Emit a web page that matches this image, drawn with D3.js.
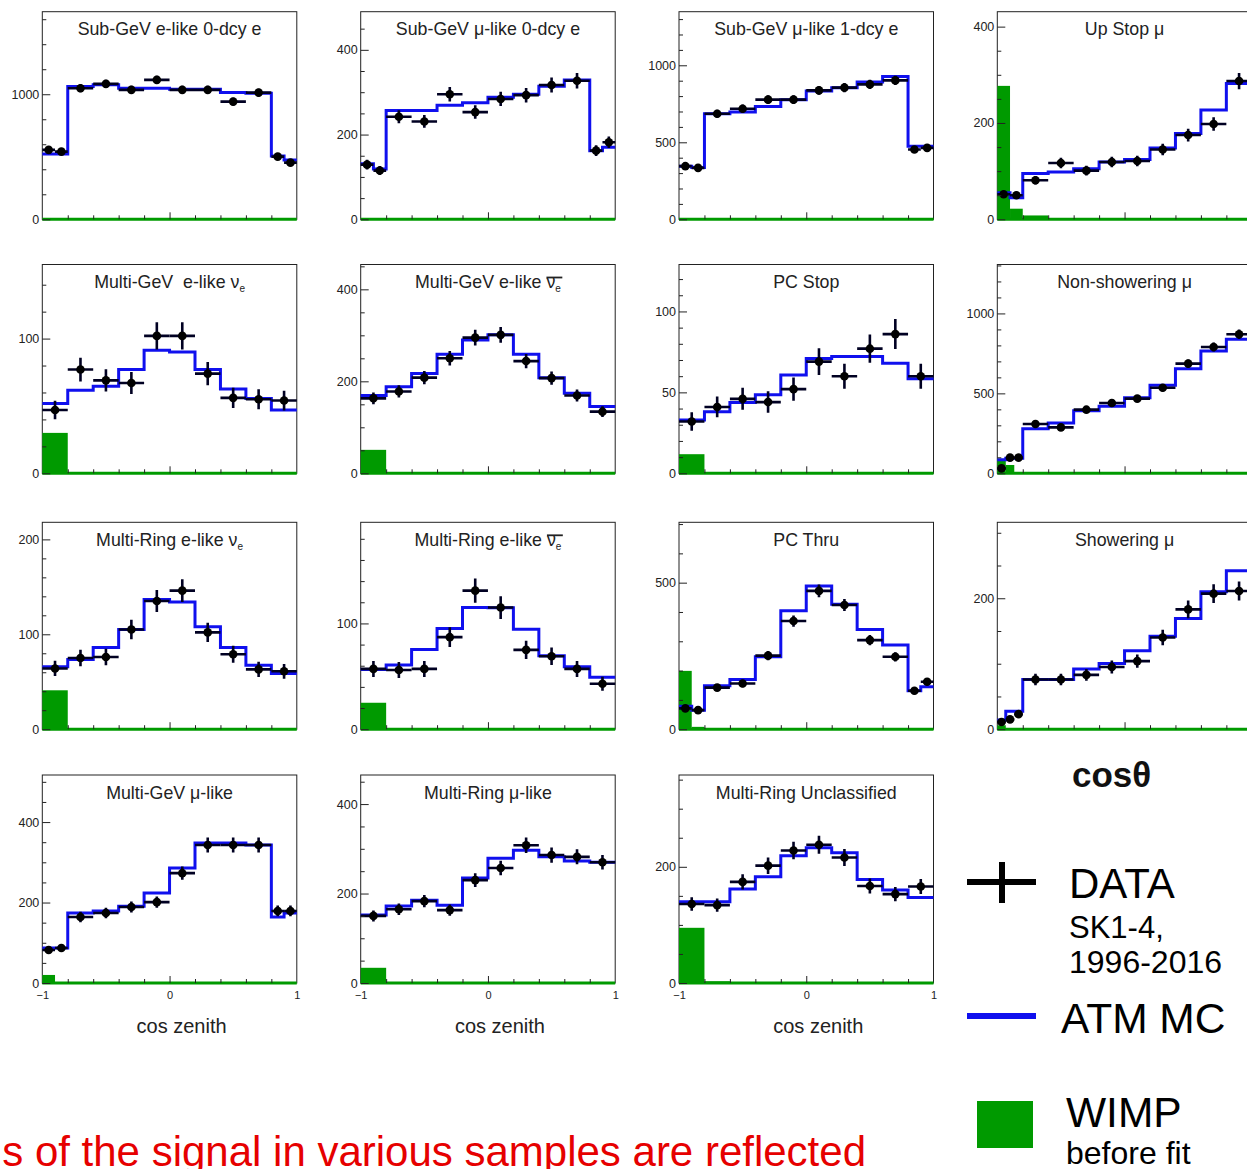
<!DOCTYPE html>
<html>
<head>
<meta charset="utf-8">
<script src="https://cdn.jsdelivr.net/npm/d3@7"></script>
<style>
  html, body { margin: 0; padding: 0; background: #fff; overflow: hidden; }
  svg { display: block; font-family: "Liberation Sans", Arial, Helvetica, sans-serif; }
  text { white-space: pre; }
</style>
</head>
<body>
<svg id="chart" width="1247" height="1169"></svg>
<script>
// ---------- bin edges (cos zenith) ----------
const edgesSplitEnds = [-1, -0.9, -0.8, -0.6, -0.4, -0.2, 0, 0.2, 0.4, 0.6, 0.8, 0.9, 1];
const edgesUniform   = [-1, -0.8, -0.6, -0.4, -0.2, 0, 0.2, 0.4, 0.6, 0.8, 1];
const edgesUpStop    = [-1, -0.95, -0.9, -0.8, -0.7, -0.6, -0.5, -0.4, -0.3, -0.2, -0.1, 0];
const edgesUpThru    = [-1, -0.9667, -0.9333, -0.9, -0.8, -0.7, -0.6, -0.5, -0.4, -0.3, -0.2, -0.1, 0];

// ---------- sample values: data counts, atmospheric MC, WIMP signal ----------
const sgE0Data = [555, 541, 1048, 1083, 1035, 1115, 1035, 1035, 941, 1013, 501, 453];
const sgE0Mc   = [523, 523, 1061, 1075, 1048, 1048, 1040, 1040, 1013, 1008, 507, 475];
const sgE0Wimp = [0, 0, 0, 0, 0, 0, 0, 0, 0, 0, 0, 0];

const sgMu0Data = [129, 115, 242, 231, 295, 253, 284, 293, 317, 327, 162, 182];
const sgMu0Mc   = [131, 119, 257, 257, 269, 275, 288, 295, 314, 329, 162, 170];
const sgMu0Wimp = [0, 0, 0, 0, 0, 0, 0, 0, 0, 0, 0, 0];

const sgMu1Data = [345, 334, 685, 718, 777, 777, 837, 855, 876, 902, 453, 464];
const sgMu1Mc   = [345, 337, 685, 696, 733, 777, 833, 855, 892, 928, 475, 475];
const sgMu1Wimp = [0, 0, 0, 0, 0, 0, 0, 0, 0, 0, 0, 0];

const upStopData = [52, 50, 81, 117, 101, 119, 121, 145, 175, 198, 287];
const upStopMc   = [55, 45, 95, 98, 105, 119, 124, 148, 178, 227, 282];
const upStopWimp = [277, 22, 8, 0, 0, 0, 0, 0, 0, 0, 0];

const mgNueData = [47, 77, 69, 67, 102, 102, 74, 56, 55, 54];
const mgNueMc   = [51.9, 61.7, 64.7, 77, 91.4, 90, 77, 62.5, 55.6, 47];
const mgNueWimp = [30, 0, 0, 0, 0, 0, 0, 0, 0, 0];

const mgNuebarData = [163, 178, 208, 250, 295, 301, 244, 207, 169, 134];
const mgNuebarMc   = [169, 188, 217, 259, 290, 301, 259, 208, 174, 145];
const mgNuebarWimp = [51, 0, 0, 0, 0, 0, 0, 0, 0, 0];

const pcStopData = [32, 41, 46, 44, 52, 69, 60, 77, 86, 60];
const pcStopMc   = [33, 38, 43.7, 48.5, 60.8, 71, 72.2, 72.2, 68, 58.4];
const pcStopWimp = [11.8, 0, 0, 0, 0, 0, 0, 0, 0, 0];

const nonShowData = [31, 98, 98, 308, 287, 398, 440, 467, 535, 686, 790, 870];
const nonShowMc   = [84, 94, 94, 279, 314, 392, 419, 472, 551, 654, 765, 839];
const nonShowWimp = [90, 52, 0, 0, 0, 0, 0, 0, 0, 0, 0, 0];

const mrNueData = [64, 75, 76, 105, 135, 146, 102, 79, 63, 61];
const mrNueMc   = [65.7, 73.5, 86, 105, 136.7, 134, 108, 86, 67.5, 58.7];
const mrNueWimp = [41, 0, 0, 0, 0, 0, 0, 0, 0, 0];

const mrNuebarData = [57, 56, 57, 87, 131, 115, 75, 69, 57, 43];
const mrNuebarMc   = [56.5, 60.6, 75.4, 95.3, 115, 114.8, 94.6, 69.4, 59, 49];
const mrNuebarWimp = [25, 0, 0, 0, 0, 0, 0, 0, 0, 0];

const pcThruData = [71, 65, 142, 156, 251, 369, 472, 424, 304, 247, 131, 162];
const pcThruMc   = [78.6, 65, 148, 170, 247, 404, 489, 426, 340.5, 287, 131, 144.6];
const pcThruWimp = [199, 8, 0, 0, 0, 0, 0, 0, 0, 0, 0, 0];

const showData = [11, 15, 23, 76, 76, 83, 95, 104, 140, 183, 207, 211];
const showMc   = [14, 27.5, 27.5, 76, 76, 92, 100.5, 120, 142, 169, 210, 242];
const showWimp = [6, 0, 0, 0, 0, 0, 0, 0, 0, 0, 0, 0];

const mgMuData = [82, 87, 164, 174, 189, 201, 273, 343, 343, 343, 179, 179];
const mgMuMc   = [87, 87, 174, 179, 191, 224, 286, 348, 348, 343, 164, 174];
const mgMuWimp = [20, 0, 0, 0, 0, 0, 0, 0, 0, 0, 0, 0];

const mrMuData = [150, 165, 183, 163, 230, 257, 308, 286, 282, 270];
const mrMuMc   = [152, 172, 185, 174, 235, 279, 297, 282, 273, 270];
const mrMuWimp = [34, 0, 0, 0, 0, 0, 0, 0, 0, 0];

const mrOtherData = [136, 134, 174, 202, 228, 238, 216, 167, 153, 166];
const mrOtherMc   = [140, 140, 162, 183, 219, 233, 224, 178, 160, 147];
const mrOtherWimp = [95, 3, 0, 0, 0, 0, 0, 0, 0, 0];

// title pieces: [text, style]  style: n = normal, bar = overlined, sub = subscript, subbar = overlined subscript
const titles = [
  [["Sub-GeV e-like 0-dcy e", "n"]],
  [["Sub-GeV μ-like 0-dcy e", "n"]],
  [["Sub-GeV μ-like 1-dcy e", "n"]],
  [["Up Stop μ", "n"]],
  [["Multi-GeV  e-like ", "n"], ["ν", "n"], ["e", "sub"]],
  [["Multi-GeV e-like ", "n"], ["ν", "bar"], ["e", "subbar"]],
  [["PC Stop", "n"]],
  [["Non-showering μ", "n"]],
  [["Multi-Ring e-like ", "n"], ["ν", "n"], ["e", "sub"]],
  [["Multi-Ring e-like ", "n"], ["ν", "bar"], ["e", "subbar"]],
  [["PC Thru", "n"]],
  [["Showering μ", "n"]],
  [["Multi-GeV μ-like", "n"]],
  [["Multi-Ring μ-like", "n"]],
  [["Multi-Ring Unclassified", "n"]]
];

// y-axis ranges and tick steps (max, labelled step, minor step)
const yRanges = [
  [1660, 1000, 200], [490, 200, 50], [1348, 500, 100], [431, 200, 50],
  [155, 100, 20], [454, 200, 50], [129, 50, 10], [1306, 500, 100],
  [218, 100, 20], [195.6, 100, 20], [706, 500, 100], [316, 200, 50],
  [517, 200, 50], [465, 200, 50], [358, 200, 50]
];

const xAxisTicks = ["−1", "0", "1"];
const xAxisTitle = "cos zenith";

const panels = [
  { edges: edgesSplitEnds, data: sgE0Data, mc: sgE0Mc, wimp: sgE0Wimp },
  { edges: edgesSplitEnds, data: sgMu0Data, mc: sgMu0Mc, wimp: sgMu0Wimp },
  { edges: edgesSplitEnds, data: sgMu1Data, mc: sgMu1Mc, wimp: sgMu1Wimp },
  { edges: edgesUpStop, data: upStopData, mc: upStopMc, wimp: upStopWimp },
  { edges: edgesUniform, data: mgNueData, mc: mgNueMc, wimp: mgNueWimp },
  { edges: edgesUniform, data: mgNuebarData, mc: mgNuebarMc, wimp: mgNuebarWimp },
  { edges: edgesUniform, data: pcStopData, mc: pcStopMc, wimp: pcStopWimp },
  { edges: edgesUpThru, data: nonShowData, mc: nonShowMc, wimp: nonShowWimp },
  { edges: edgesUniform, data: mrNueData, mc: mrNueMc, wimp: mrNueWimp },
  { edges: edgesUniform, data: mrNuebarData, mc: mrNuebarMc, wimp: mrNuebarWimp },
  { edges: edgesSplitEnds, data: pcThruData, mc: pcThruMc, wimp: pcThruWimp },
  { edges: edgesUpThru, data: showData, mc: showMc, wimp: showWimp },
  { edges: edgesSplitEnds, data: mgMuData, mc: mgMuMc, wimp: mgMuWimp },
  { edges: edgesUniform, data: mrMuData, mc: mrMuMc, wimp: mrMuWimp },
  { edges: edgesUniform, data: mrOtherData, mc: mrOtherMc, wimp: mrOtherWimp }
];

// ---------- layout ----------
const colLeft = [42.3, 360.7, 679, 997.3];
const frameW = 254.5;
const rowTop = [11.7, 264.5, 522.3, 775];
const rowBottom = [219.3, 473.3, 729.2, 983];

const BLUE = "#1010ee";
const GREEN = "#009a00";
const ERR = "#000022";

const svg = d3.select("#chart");

panels.forEach((p, k) => {
  const row = Math.floor(k / 4), col = k % 4;
  const x0 = colLeft[col], x1 = x0 + frameW;
  const yT = rowTop[row], yB = rowBottom[row];
  const upward = p.edges[p.edges.length - 1] === 0;
  const x = d3.scaleLinear().domain(upward ? [-1, 0] : [-1, 1]).range([x0, x1]);
  const [yMax, major, minor] = yRanges[k];
  const y = d3.scaleLinear().domain([0, yMax]).range([yB, yT]);
  const g = svg.append("g");

  const clipId = "clip" + k;
  g.append("clipPath").attr("id", clipId).append("rect")
    .attr("x", x0 - 6).attr("y", yT).attr("width", frameW + 12).attr("height", yB - yT + 3);

  // frame
  g.append("rect").attr("x", x0).attr("y", yT).attr("width", frameW).attr("height", yB - yT)
    .attr("fill", "none").attr("stroke", "#222").attr("stroke-width", 1);

  const body = g.append("g").attr("clip-path", `url(#${clipId})`);
  const bins = p.edges.slice(0, -1).map((a, i) => ({ a, b: p.edges[i + 1], i }));

  // WIMP signal histogram
  body.selectAll("rect.wimp").data(bins.filter(d => p.wimp[d.i] > 0)).join("rect")
    .attr("class", "wimp")
    .attr("x", d => x(d.a)).attr("width", d => x(d.b) - x(d.a))
    .attr("y", d => y(p.wimp[d.i])).attr("height", d => y(0) - y(p.wimp[d.i]))
    .attr("fill", GREEN);
  body.append("line").attr("x1", x0).attr("x2", x1).attr("y1", y(0)).attr("y2", y(0))
    .attr("stroke", GREEN).attr("stroke-width", 3);

  // atmospheric MC step histogram
  const steps = [];
  bins.forEach(d => { steps.push([x(d.a), y(p.mc[d.i])]); steps.push([x(d.b), y(p.mc[d.i])]); });
  body.append("path").attr("d", d3.line()(steps)).attr("fill", "none")
    .attr("stroke", BLUE).attr("stroke-width", 3).attr("stroke-linejoin", "miter");

  // data points with statistical error bars
  const pts = body.selectAll("g.pt").data(bins).join("g").attr("class", "pt");
  pts.append("line")
    .attr("x1", d => x(d.a)).attr("x2", d => x(d.b))
    .attr("y1", d => y(p.data[d.i])).attr("y2", d => y(p.data[d.i]))
    .attr("stroke", ERR).attr("stroke-width", 2.6);
  pts.append("line")
    .attr("x1", d => x((d.a + d.b) / 2)).attr("x2", d => x((d.a + d.b) / 2))
    .attr("y1", d => y(p.data[d.i] + Math.sqrt(p.data[d.i])))
    .attr("y2", d => y(p.data[d.i] - Math.sqrt(p.data[d.i])))
    .attr("stroke", ERR).attr("stroke-width", 2.6);
  pts.append("circle")
    .attr("cx", d => x((d.a + d.b) / 2)).attr("cy", d => y(p.data[d.i]))
    .attr("r", 4.3).attr("fill", "#000");

  // y axis: ticks drawn inside the frame
  const minorTicks = d3.range(0, yMax + 1e-6, minor).filter(v => Math.abs(v / major - Math.round(v / major)) > 1e-6);
  const majorTicks = d3.range(0, yMax + 1e-6, major);
  const yMinorAxis = d3.axisLeft(y).tickValues(minorTicks).tickSize(-4).tickFormat("");
  const yMajorAxis = d3.axisLeft(y).tickValues(majorTicks).tickSize(-8).tickPadding(3).tickFormat(d3.format("d"));
  [yMinorAxis, yMajorAxis].forEach(ax => {
    const a = g.append("g").attr("transform", `translate(${x0},0)`).call(ax);
    a.select(".domain").remove();
    a.selectAll("line").attr("stroke", "#222");
    a.selectAll("text").attr("font-size", 12.5).attr("fill", "#222")
      .attr("font-family", "Liberation Sans, Arial, sans-serif");
  });

  // x axis ticks along the bottom
  const xs = upward ? d3.range(1, 10).map(i => -1 + i * 0.1) : d3.range(1, 10).map(i => -1 + i * 0.2);
  const midTick = upward ? -0.5 : 0;
  const xMinor = xs.filter(v => Math.abs(v - midTick) > 1e-6);
  const xMinorAxis = d3.axisBottom(x).tickValues(xMinor).tickSize(-4).tickFormat("");
  const xMajorAxis = d3.axisBottom(x).tickValues([midTick]).tickSize(-7).tickFormat("");
  [xMinorAxis, xMajorAxis].forEach(ax => {
    const a = g.append("g").attr("transform", `translate(0,${yB})`).call(ax);
    a.select(".domain").remove();
    a.selectAll("line").attr("stroke", "#222");
  });

  // bottom row: tick labels and axis title
  if (row === 3) {
    const labAxis = d3.axisBottom(x).tickValues([-1, 0, 1]).tickSize(0).tickPadding(8)
      .tickFormat((d, i) => xAxisTicks[i]);
    const a = g.append("g").attr("transform", `translate(0,${yB})`).call(labAxis);
    a.select(".domain").remove();
    a.selectAll("text").attr("font-size", 11).attr("fill", "#222")
      .attr("font-family", "Liberation Sans, Arial, sans-serif");
    g.append("text").attr("x", (x0 + x1) / 2 + 12).attr("y", 1033)
      .attr("text-anchor", "middle").attr("font-size", 20).attr("fill", "#222")
      .text(xAxisTitle);
  }

  // panel title
  const t = g.append("text").attr("x", (x0 + x1) / 2).attr("y", yT + 23.5)
    .attr("text-anchor", "middle").attr("font-size", 17.8).attr("fill", "#222");
  const barSpans = [];
  titles[k].forEach(([s, style]) => {
    const sp = t.append("tspan").text(s);
    if (style === "sub" || style === "subbar") sp.attr("font-size", 10).attr("dy", 4);
    if (style === "bar" || style === "subbar") barSpans.push(sp.node());
  });
  if (barSpans.length) {
    const boxes = barSpans.map(n => n.getBBox());
    const left = d3.min(boxes, b => b.x), right = d3.max(boxes, b => b.x + b.width);
    const yLine = yT + 23.5 - 10.5;
    g.append("line").attr("x1", left).attr("x2", right + 1).attr("y1", yLine).attr("y2", yLine)
      .attr("stroke", "#222").attr("stroke-width", 1.8);
  }
});

// ---------- legend ----------
const leg = svg.append("g");
leg.append("text").attr("x", 1072).attr("y", 787).attr("font-size", 35).attr("font-weight", "bold")
  .attr("fill", "#111").text("cosθ");

leg.append("line").attr("x1", 967).attr("x2", 1036).attr("y1", 882).attr("y2", 882)
  .attr("stroke", "#000").attr("stroke-width", 6);
leg.append("line").attr("x1", 1002).attr("x2", 1002).attr("y1", 862).attr("y2", 903)
  .attr("stroke", "#000").attr("stroke-width", 6);
leg.append("text").attr("x", 1069).attr("y", 898).attr("font-size", 42).attr("fill", "#000").text("DATA");
leg.append("text").attr("x", 1069).attr("y", 938).attr("font-size", 31).attr("fill", "#000").text("SK1-4,");
leg.append("text").attr("x", 1069).attr("y", 973).attr("font-size", 32).attr("fill", "#000").text("1996-2016");

leg.append("line").attr("x1", 967).attr("x2", 1036).attr("y1", 1016).attr("y2", 1016)
  .attr("stroke", BLUE).attr("stroke-width", 6);
leg.append("text").attr("x", 1061).attr("y", 1033).attr("font-size", 42.5).attr("fill", "#000").text("ATM MC");

leg.append("rect").attr("x", 977).attr("y", 1101).attr("width", 56).attr("height", 47).attr("fill", GREEN);
leg.append("text").attr("x", 1066).attr("y", 1127).attr("font-size", 42.5).attr("fill", "#000").text("WIMP");
leg.append("text").attr("x", 1066).attr("y", 1164).attr("font-size", 32).attr("fill", "#000").text("before fit");

// caption line along the bottom
svg.append("text").attr("x", 866).attr("y", 1166).attr("text-anchor", "end")
  .attr("font-size", 42).attr("fill", "#e60000")
  .text("s of the signal in various samples are reflected");
</script>
</body>
</html>
